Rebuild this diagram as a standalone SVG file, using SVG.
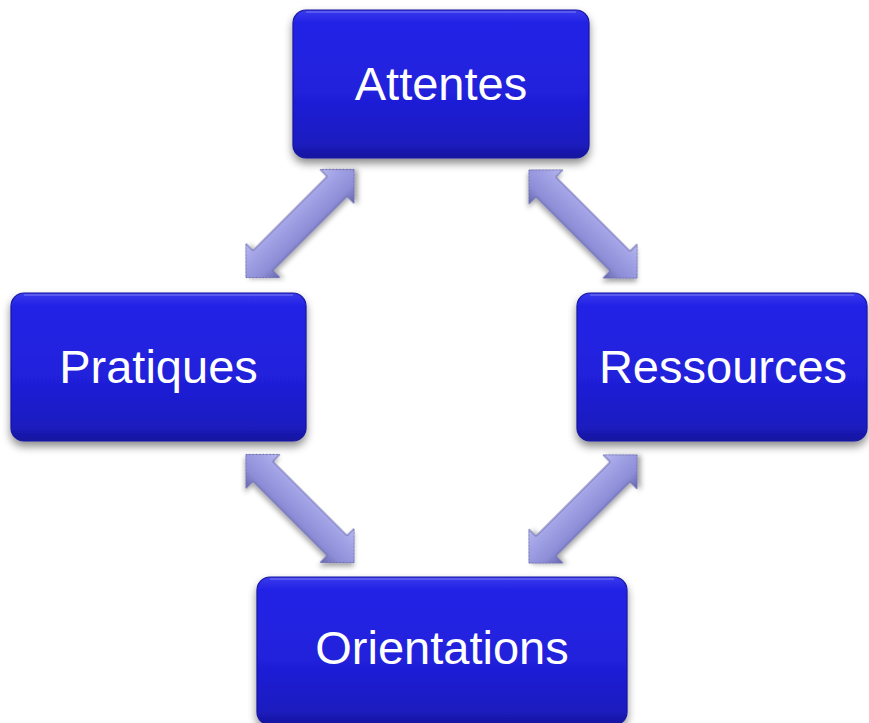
<svg xmlns="http://www.w3.org/2000/svg" width="869" height="723" viewBox="0 0 869 723">
<style>
.box{fill:url(#boxg);stroke:#1616a0;stroke-width:1.2;filter:url(#sh)}
.hl{fill:none;stroke:#6a6af4;stroke-width:2;opacity:.7}
.lbl{font-family:"Liberation Sans",Arial,sans-serif;font-size:47px;fill:#ffffff;text-anchor:middle}
.arr{fill:url(#arrg);stroke:#6a6ab0;stroke-width:1;filter:url(#ash)}
</style>
<defs>
<linearGradient id="boxg" x1="0" y1="0" x2="0" y2="1">
<stop offset="0" stop-color="#3a3aec"/>
<stop offset="0.08" stop-color="#2424e6"/>
<stop offset="0.55" stop-color="#2020dc"/>
<stop offset="0.9" stop-color="#1b1bc0"/>
<stop offset="1" stop-color="#17179e"/>
</linearGradient>
<linearGradient id="arrg" gradientUnits="userSpaceOnUse" x1="0" y1="-24" x2="0" y2="24">
<stop offset="0" stop-color="#b8b8f0"/>
<stop offset="0.3" stop-color="#a2a2e6"/>
<stop offset="0.7" stop-color="#8e8ed8"/>
<stop offset="1" stop-color="#6666ac"/>
</linearGradient>
<filter id="sh" x="-10%" y="-10%" width="120%" height="130%">
<feDropShadow dx="0" dy="5" stdDeviation="4" flood-color="#000" flood-opacity="0.45"/>
</filter>
<filter id="ash" x="-20%" y="-40%" width="140%" height="180%">
<feDropShadow dx="2" dy="3" stdDeviation="2.5" flood-color="#000" flood-opacity="0.35"/>
</filter>
<path id="dbl" d="M0,0 L24,-24 L24,-14 L129,-14 L129,-24 L153,0 L129,24 L129,14 L24,14 L24,24 Z"/>
</defs>
<rect width="869" height="723" fill="#ffffff"/>
<g id="connectors">
<use href="#dbl" class="arr" transform="translate(300,223.5) rotate(-45) translate(-76.5,0)"/>
<use href="#dbl" class="arr" transform="translate(583,224) rotate(45) translate(-76.5,0)"/>
<use href="#dbl" class="arr" transform="translate(300,508.5) rotate(45) translate(-76.5,0)"/>
<use href="#dbl" class="arr" transform="translate(583,509) rotate(-45) translate(-76.5,0)"/>
</g>
<g id="attentes">
<rect class="box" x="293" y="10" width="296" height="148" rx="13"/>
<path class="hl" d="M306,12 H576"/>
<text class="lbl" x="441" y="100">Attentes</text>
</g>
<g id="pratiques">
<rect class="box" x="11" y="293" width="295" height="148" rx="13"/>
<path class="hl" d="M24,295 H293"/>
<text class="lbl" x="158.5" y="383">Pratiques</text>
</g>
<g id="ressources">
<rect class="box" x="577" y="293" width="290" height="148" rx="13"/>
<path class="hl" d="M590,295 H854"/>
<text class="lbl" x="723" y="383">Ressources</text>
</g>
<g id="orientations">
<rect class="box" x="257" y="577" width="370" height="148" rx="13"/>
<path class="hl" d="M270,579 H614"/>
<text class="lbl" x="442" y="664">Orientations</text>
</g>
</svg>
